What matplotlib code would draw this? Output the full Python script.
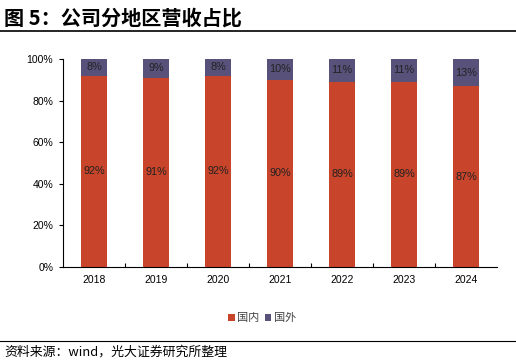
import matplotlib
matplotlib.use("Agg")
import matplotlib.pyplot as plt
from matplotlib.lines import Line2D
from matplotlib.ticker import PercentFormatter

plt.rcParams['font.family'] = ['Liberation Sans', 'Noto Sans CJK SC', 'DejaVu Sans']

years = ['2018', '2019', '2020', '2021', '2022', '2023', '2024']
domestic = [92, 91, 92, 90, 89, 89, 87]
foreign = [8, 9, 8, 10, 11, 11, 13]
series_names = ['国内', '国外']
colors = ['#C8442A', '#58527A']

fig = plt.figure(figsize=(5.16, 3.64), dpi=100)
ax = fig.add_axes([63/516, 1-267/364, 434/516, 208/364])

x = list(range(len(years)))
w = 0.42
b1 = ax.bar(x, domestic, width=w, color=colors[0], label=series_names[0])
b2 = ax.bar(x, foreign, width=w, bottom=domestic, color=colors[1], label=series_names[1])

for xi, d, f in zip(x, domestic, foreign):
    ax.text(xi, d/2, f'{d}%', ha='center', va='center', fontsize=7.8, color='#222222')
    ax.text(xi, d + f/2, f'{f}%', ha='center', va='center', fontsize=7.8, color='#222222')

ax.set_xlim(-0.5, len(years) - 0.5)
ax.set_ylim(0, 100)
ax.set_yticks(range(0, 101, 20))
ax.yaxis.set_major_formatter(PercentFormatter(decimals=0))
ax.set_xticks(x)
ax.set_xticklabels(years)
ax.set_xticks([i + 0.5 for i in x[:-1]], minor=True)
ax.tick_params(axis='x', which='major', length=0, pad=6, labelsize=7.5)
ax.tick_params(axis='x', which='minor', length=3, direction='in', width=0.8)
ax.tick_params(axis='y', length=3, direction='out', width=0.8, labelsize=7.5, pad=4)
for s in ['top', 'right']:
    ax.spines[s].set_visible(False)
for s in ['left', 'bottom']:
    ax.spines[s].set_linewidth(0.8)
    ax.spines[s].set_color('black')

leg = fig.legend(handles=[b1, b2], labels=series_names, loc='center',
                 bbox_to_anchor=(262/516, 1-318/364), ncol=2, frameon=False,
                 handlelength=0.6, handleheight=0.6,
                 handletextpad=0.2, columnspacing=0.5,
                 prop={'family': ['Noto Sans CJK SC'], 'size': 8})
for t in leg.get_texts():
    t.set_color('#444444')

fig.text(4/516, 1-18/364, '图 5：公司分地区营收占比', fontsize=14.5, fontweight='bold',
         family=['Noto Sans CJK SC'], va='center', ha='left')
fig.add_artist(Line2D([0, 1], [1-31/364, 1-31/364], color='black', lw=1.2, transform=fig.transFigure))
fig.add_artist(Line2D([0, 1], [1-341/364, 1-341/364], color='black', lw=0.8, transform=fig.transFigure))
fig.text(4/516, 1-352/364, '资料来源：wind，光大证券研究所整理', fontsize=9.3,
         family=['Noto Sans CJK SC'], va='center', ha='left')

fig.savefig('out.png', dpi=100)
